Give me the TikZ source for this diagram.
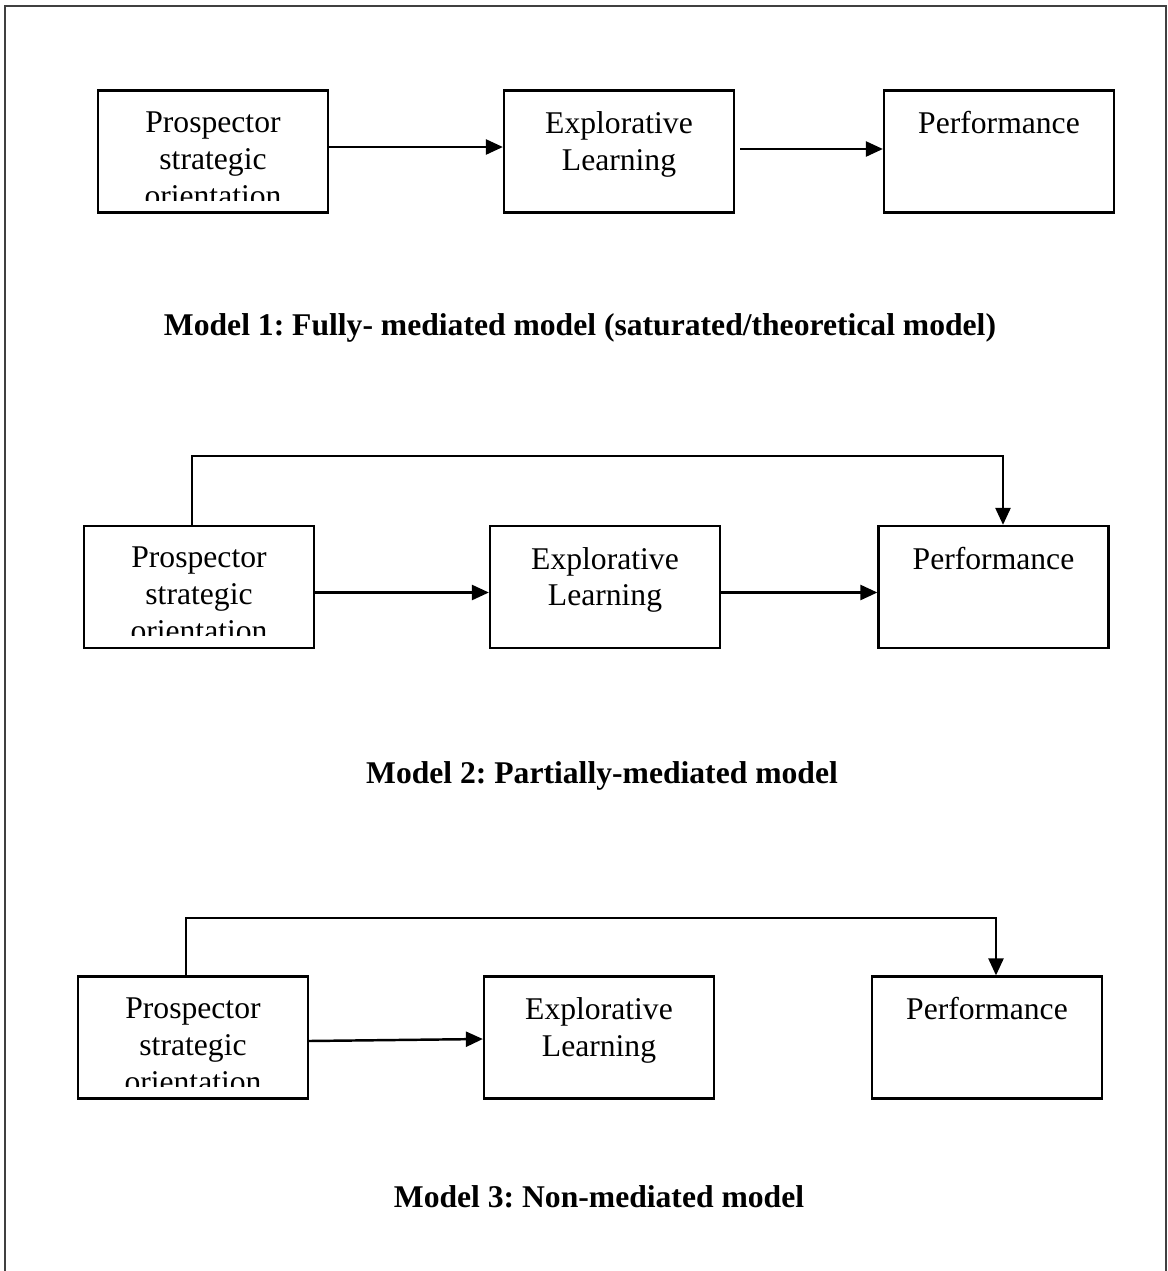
\documentclass[tikz,border=0pt]{standalone}
\usepackage{fontspec}
\setmainfont{Liberation Serif}
\frenchspacing
\usetikzlibrary{arrows.meta,positioning,calc}
\newcommand\boxfont{\fontsize{18}{21}\selectfont}
\tikzset{
  modelbox/.style 2 args={draw, line width=1.3pt, minimum width=4.6cm, minimum height=2.44cm, inner sep=0pt,
    path picture={
      \clip ([yshift=0.24cm]path picture bounding box.south west) rectangle (path picture bounding box.north east);
      \node[draw=none, anchor=north, align=center, inner sep=0pt, minimum width=0pt, minimum height=0pt, font=\boxfont]
        (#1) at ([yshift=-0.4cm]path picture bounding box.north) {#2};
    }},
  link/.style={line width=1.4pt, -{Triangle[length=0.34cm, width=0.3cm]}},
  title/.style={anchor=base, font=\boxfont\bfseries},
  frame/.style={line width=1.2pt, black!75}
}

\begin{document}
\begin{tikzpicture}[x = 0.02cm, y = -0.02cm]
\useasboundingbox (0,0) rectangle (1168,1271);
\draw[frame] (5,1271) -- (5,6) -- (1166,6) -- (1166,1271);
% Model 1
\node[modelbox={pso1txt}{Prospector\\strategic\\orientation}] (pso1) at (213,151.5) {};
\node[modelbox={expl1txt}{Explorative\\Learning}] (expl1) at (619,151.5) {};
\node[modelbox={perf1txt}{Performance}] (perf1) at (999,151.5) {};
\draw[link] ([yshift=0.09cm]pso1.east) -- ([yshift=0.09cm]expl1.west);
\draw[link] ([xshift=0.1cm, yshift=0.05cm]expl1.east) -- ([yshift=0.05cm]perf1.west);
\node[title] (m1title) at (580,335) {Model 1: Fully- mediated model (saturated/theoretical model)};
% Model 2
\node[modelbox={pso2txt}{Prospector\\strategic\\orientation}] (pso2) at (199,587) {};
\node[modelbox={expl2txt}{Explorative\\Learning}] (expl2) at (605,587) {};
\node[modelbox={perf2txt}{Performance}] (perf2) at (993.5,587) {};
\coordinate (top2) at (0,456);
\draw[link] ([yshift=-0.11cm]pso2.east) -- ([yshift=-0.11cm]expl2.west);
\draw[link] ([yshift=-0.11cm]expl2.east) -- ([yshift=-0.11cm]perf2.west);
\draw[link] ([xshift=-0.14cm]pso2.north) -- ([xshift=-0.14cm]pso2.north |- top2) -| ([xshift=0.19cm]perf2.north);
\node[title] (m2title) at (602,783) {Model 2: Partially-mediated model};
% Model 3
\node[modelbox={pso3txt}{Prospector\\strategic\\orientation}] (pso3) at (193,1037.5) {};
\node[modelbox={expl3txt}{Explorative\\Learning}] (expl3) at (599,1037.5) {};
\node[modelbox={perf3txt}{Performance}] (perf3) at (987,1037.5) {};
\coordinate (top3) at (0,918);
\draw[link] ([yshift=-0.07cm]pso3.east) -- ([yshift=-0.03cm]expl3.west);
\draw[link] ([xshift=-0.14cm]pso3.north) -- ([xshift=-0.14cm]pso3.north |- top3) -| ([xshift=0.18cm]perf3.north);
\node[title] (m3title) at (599,1207) {Model 3: Non-mediated model};
\end{tikzpicture}
\end{document}
